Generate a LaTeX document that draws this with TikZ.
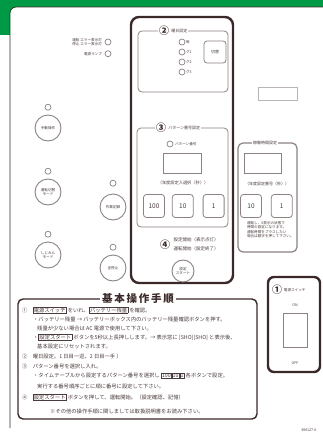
\documentclass[tikz,border=0pt]{standalone}
\usepackage{fontspec}
\setmainfont{Noto Sans CJK JP}
\usetikzlibrary{positioning}
\definecolor{hdrgreen}{rgb}{0,0.6,0.27}
\definecolor{ink}{HTML}{3B2828}
\definecolor{frm}{HTML}{8C8282}
\definecolor{txt}{HTML}{4A3C3C}
\newcommand{\cn}[1]{{\fontsize{10}{10}\selectfont\bfseries\color{ink}#1}}
\newcommand{\kw}[1]{{\setlength{\fboxsep}{0.5pt}\setlength{\fboxrule}{0.5pt}\fbox{#1}}}

\begin{document}
\begin{tikzpicture}[x=1pt,y=-1pt,
    btn/.style={circle,draw=frm,line width=0.9pt,minimum size=26pt,inner sep=0pt,align=center,text=txt,font=\fontsize{3.6}{4.2}\selectfont},
    lamp/.style={circle,draw=frm,line width=0.7pt,minimum size=6pt,inner sep=0pt},
    key/.style={draw=frm,line width=0.8pt,rounded corners=3pt,minimum width=21pt,minimum height=23pt,inner sep=0pt,text=txt,font=\fontsize{6.5}{7}\selectfont},
    lcd/.style={draw=frm,line width=0.8pt,minimum width=38pt,minimum height=20pt},
    tiny/.style={text=txt,inner sep=0.5pt,align=left,font=\fontsize{3.6}{4.2}\selectfont},
    ttl/.style={fill=white,inner sep=1pt,text=txt,font=\fontsize{4}{5}\selectfont},
    row/.style={anchor=west,text=txt,inner sep=0pt,font=\fontsize{5.3}{6}\selectfont}]
    \useasboundingbox (0,0) rectangle (323,434);
    \fill[white] (0,0) rectangle (323,434);
    \fill[hdrgreen] (0,0) rectangle (323,35);
    \fill[white,rounded corners=6pt] (10,7) rectangle (340,445);
    \draw[ink,line width=0.8pt,rounded corners=6pt] (10,428) -- (10,7) -- (340,7);

    \node[lamp] (l1) at (108,42) {};
    \node[lamp, below=5pt of l1] (l2) {};
    \node[tiny, left=2pt of l1, align=right] (t1) {運転\ エラー表示灯\\停止\ エラー表示灯};
    \node[tiny, left=2pt of l2] (t2) {電源ランプ};

    \node[btn] (b1) at (48,128) {手動操作};
    \node[lamp, above=4pt of b1] (p1) {};
    \node[btn] (b2) at (48,192) {運転切替\\モード};
    \node[lamp, above=4pt of b2] (p2) {};
    \node[btn] (b3) at (48,255) {しじみん\\モード};
    \node[lamp, above=4pt of b3] (p3) {};
    \node[btn] (b4) at (113,207) {作業記録};
    \node[lamp, above=7pt of b4] (p4) {};
    \node[btn] (b5) at (113,268) {全停止};
    \node[lamp, above=4pt of b5] (p5) {};

    \draw[ink,line width=2.4pt,rounded corners=8pt] (131,17) rectangle (233,283);
    \draw[frm,line width=0.8pt,rounded corners=4pt] (138,31) rectangle (228,92);
    \node[ttl] (s2) at (164,31) {\cn{②}};
    \node[ttl, right=0pt of s2] (s2t) {曜日設定};
    \foreach \t [count=\i] in {毎,グ1,グ2,グ3}
        \node[lamp, label={[tiny]right:\t}] (d\i) at (182,32+10*\i) {};
    \node[key, minimum width=22pt, minimum height=22pt, font=\fontsize{4}{5}\selectfont] (kw) at (215,52) {切替};

    \draw[frm,line width=0.8pt,rounded corners=4pt] (137,128) rectangle (228,227);
    \node[ttl] (s3) at (161,128) {\cn{③}};
    \node[ttl, right=0pt of s3] (s3t) {パターン番号設定};
    \node[lamp] (q0) at (170,144) {};
    \node[tiny, right=1pt of q0] (q1) {パターン番号};
    \node[lcd] (c1) at (182.5,163) {};
    \node[tiny, font=\fontsize{4.2}{5}\selectfont] (c2) at (183,183) {（年度設定入選択〈秒〉）};
    \node[key] (k100) at (154,206) {100};
    \node[key, right=7pt of k100] (k10) {10};
    \node[key, right=9pt of k10] (k1) {1};
    \node[inner sep=0pt] (n4) at (165,245) {\cn{④}};
    \node[tiny, anchor=west, font=\fontsize{4.5}{5}\selectfont] (t4) at (173,240) {設定開始（表示点灯）};
    \node[tiny, below=3pt of t4, font=\fontsize{4.5}{5}\selectfont] (t4b) {運転開始（設定終了）};
    \node[btn, minimum size=22pt] (go) at (183,271) {設定\\スタート};

    \draw[frm,line width=1.2pt,rounded corners=5pt] (238,143) rectangle (297,252);
    \node[ttl] (s5) at (265,143) {稼働時間設定};
    \node[lcd, minimum width=37pt] (c3) at (263,163) {};
    \node[tiny, font=\fontsize{4}{5}\selectfont] (c4) at (267,184) {（年度設定番号〈秒〉）};
    \node[key] (h10) at (251,206) {10};
    \node[key, right=9pt of h10] (h1) {1};
    \node[tiny, below=3pt of c4.south west |- h10.south, anchor=north west, xshift=2pt] (t5)
        {運転し、0表示の状態で\\時間の設定になります。\\運転時間をプラスしたい\\場合は数字を押して下さい。};

    \draw[frm!60,line width=0.7pt] (258,87) rectangle (297,100);

    \draw[ink,line width=2.4pt,rounded corners=6pt] (268,277) rectangle (320,372);
    \node[inner sep=0pt] (n1) at (277,290) {\cn{①}};
    \node[tiny, right=1pt of n1] (t1s) {電源スイッチ};
    \node[tiny] (on) at (295,305) {ON};
    \node[draw=frm,line width=0.8pt,minimum width=24pt,minimum height=34pt] (sw) at (295,330) {};
    \node[tiny] (off) at (295,363) {OFF};

    \draw[ink,line width=1.4pt,rounded corners=5pt] (18,299) rectangle (257,419);
    \node[fill=white,inner sep=2pt,text=ink,font=\fontsize{10.5}{11}\bfseries\selectfont] (hd) at (138,298) {基\,本\,操\,作\,手\,順};
    \foreach \x/\y/\t in {22/310/{①\quad\kw{電源スイッチ} をいれ、\kw{バッテリー残量} を確認。},
        33/319/{・バッテリー残量 → バッテリーボックス内のバッテリー残量確認ボタンを押す。},
        37/328/{残量が少ない場合は AC 電源で使用して下さい。},
        33/337/{・\kw{設定スタート} ボタンを5秒以上長押しします。→ 表示窓に [SHO][SHO] と表示後、},
        37/346/{基本設定にリセットされます。},
        22/356/{②\quad 曜日設定。1 日目一巡、2 日目一手 ）},
        22/366/{③\quad パターン番号を選択し入れ。},
        33/376/{・タイムテーブルから設定するパターン番号を選択し \kw{100}\kw{10}\kw{1} 各ボタンで設定。},
        37/386/{実行する番号順序ごとに順に番号に設定して下さい。},
        22/397/{④\quad\kw{設定スタート} ボタンを押して、運転開始。（設定確認、記憶）},
        50/411/{※その他の操作手順に関しましては取扱説明書をお読み下さい。}}
        \node[row] (r\y) at (\x,\y) {\t};

    \node[tiny] (id) at (309,430) {BM127-0};
\end{tikzpicture}
\end{document}
